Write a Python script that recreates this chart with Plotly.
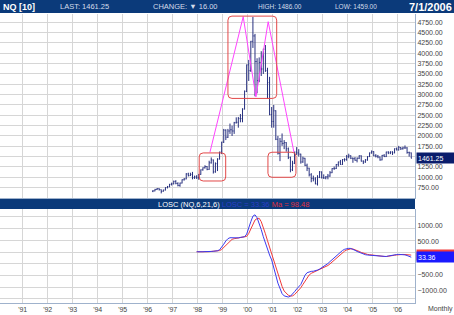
import plotly.graph_objects as go
import pandas as pd

# ---------------- data ----------------
price_months = pd.date_range("1996-03-01", "2006-07-01", freq="MS")
price_open = [660,670,705,725,700,660,690,750,770,830,
    840,900,850,800,860,940,960,1080,1040,1070,990,1010,
    990,1070,1180,1230,1260,1190,1350,1420,1130,1330,1440,1610,
    1850,2140,1970,2120,2150,2120,2320,2330,2420,2420,2650,3080,
    3720,3580,4290,4420,3800,3340,3780,3620,4100,3580,3290,2520,
    2350,2610,1920,1580,1870,1820,1840,1690,1480,1180,1340,1610,
    1590,1560,1370,1460,1290,1220,1060,970,960,840,1000,1130,
    990,980,1010,1030,1110,1210,1210,1310,1370,1310,1430,1430,
    1500,1520,1460,1450,1410,1460,1520,1390,1370,1420,1500,1590,
    1620,1520,1510,1490,1420,1530,1500,1610,1590,1610,1590,1690,
    1660,1720,1690,1710,1710,1600,1590]
price_high = [690,720,740,735,705,700,760,790,840,870,
    920,930,880,870,950,980,1100,1110,1110,1130,1040,1050,
    1080,1190,1240,1290,1270,1400,1480,1430,1360,1460,1620,1860,
    2170,2160,2170,2300,2250,2340,2450,2460,2530,2670,3100,3730,
    3840,4300,4880,4470,3880,3900,4050,4110,4200,3650,3430,2700,
    2750,2620,2000,1950,2060,1900,1850,1720,1500,1400,1620,1730,
    1680,1570,1500,1470,1330,1230,1100,1040,1000,1050,1150,1140,
    1070,1030,1080,1150,1220,1260,1320,1380,1420,1440,1460,1540,
    1570,1530,1480,1490,1480,1530,1530,1410,1440,1510,1600,1650,
    1630,1560,1540,1500,1540,1560,1620,1630,1630,1630,1700,1720,
    1760,1730,1740,1770,1730,1620,1600]
price_low = [640,660,690,680,610,650,680,730,760,800,
    830,830,780,770,850,920,950,1020,1030,950,960,960,
    940,1060,1160,1210,1170,1180,1330,1090,1110,1150,1430,1560,
    1830,1900,1950,2050,2000,2050,2300,2200,2330,2330,2640,3060,
    3330,3550,4130,2960,3030,3300,3450,3500,3550,2900,2500,2200,
    2200,1900,1550,1390,1760,1680,1620,1440,1120,1150,1320,1540,
    1500,1330,1350,1270,1150,1020,880,900,830,800,980,970,
    960,950,950,1010,1100,1180,1200,1260,1300,1300,1380,1400,
    1460,1440,1350,1400,1360,1440,1380,1320,1350,1400,1490,1570,
    1510,1480,1460,1400,1410,1490,1490,1560,1560,1540,1580,1650,
    1650,1660,1670,1690,1570,1500,1459]
price_close = [670,705,725,700,660,690,750,770,830,840,
    900,850,800,860,940,960,1080,1040,1070,990,1010,990,
    1070,1180,1230,1260,1190,1350,1420,1130,1330,1440,1610,1850,
    2140,1970,2120,2150,2120,2320,2330,2420,2420,2650,3080,3720,
    3580,4290,4420,3800,3340,3780,3620,4100,3580,3290,2520,2350,
    2610,1920,1580,1870,1820,1840,1690,1480,1180,1340,1610,1590,
    1560,1370,1460,1290,1220,1060,970,960,840,1000,1130,990,
    980,1010,1030,1110,1210,1210,1310,1370,1310,1430,1430,1500,
    1520,1460,1450,1410,1460,1520,1390,1370,1420,1500,1590,1620,
    1520,1510,1490,1420,1530,1500,1610,1590,1610,1590,1690,1660,
    1720,1690,1710,1710,1600,1590,1461.25]

osc_months = pd.date_range("1997-12-01", "2006-07-01", freq="MS")
losc = [200,
    195,195,200,205,200,205,210,215,215,230,260,330,
    430,530,600,630,625,615,615,625,640,640,660,740,
    900,1120,1290,1330,1240,1080,880,660,450,260,100,-50,
    -250,-520,-760,-950,-1080,-1150,-1180,-1185,-1160,-1100,-1020,-940,
    -880,-800,-660,-520,-440,-410,-400,-395,-385,-360,-330,-290,
    -250,-210,-160,-100,-40,20,80,140,190,240,275,300,
    305,300,280,245,210,180,150,125,110,100,95,90,
    85,75,65,55,50,50,55,70,85,95,105,115,
    120,120,115,105,85,60,33.36]
losc_ma = [200,
    196,196,198,201,201,203,206,210,212,220,236,270,
    330,410,480,540,580,600,610,615,625,632,640,670,
    760,900,1060,1170,1215,1225,1120,950,750,540,330,140,
    -60,-260,-480,-680,-860,-1000,-1080,-1130,-1155,-1150,-1110,-1050,
    -980,-900,-800,-690,-590,-510,-460,-430,-410,-390,-360,-320,
    -290,-260,-220,-170,-110,-50,10,70,130,180,220,255,
    280,290,285,265,240,210,180,155,135,120,110,100,
    95,88,80,70,62,56,55,60,70,82,93,103,
    112,118,118,115,108,103,98.48]

years = list(range(1991, 2007))
year_labels = ["'%02d" % (y % 100) for y in years]
price_ticks = [v for v in range(750, 5000, 250) if v != 1500]   # 1500 hidden by last-price box
price_hidden_grid = [1500]
osc_ticks = [-1000, -500, 500, 1000]                          # 0 hidden by last-value box
osc_grid = [1272, 917, 538, 183, -174, -520, -887, -1240]

last_price = 1461.25
last_osc = 33.36
last_ma = 98.48

def dec_year(months):
    return [d.year + (d.month - 1) / 12 + 1 / 24 for d in months]

px = dec_year(price_months)
ox = dec_year(osc_months)

# ---------------- layout geometry ----------------
W, H = 454, 315
XR = [1990.092, 2006.692]
Y1R = [491, 4951]
Y2R = [-1358, 1508]
xdom = [0, 415 / W]
y1dom = [1 - 198.3 / H, 1 - 14 / H]
y2dom = [1 - 302.7 / H, 1 - 209 / H]
pxx = 415 / (XR[1] - XR[0])
pxy = (198.3 - 14) / (Y1R[1] - Y1R[0])

NAVY = "#0b3a7a"
GRID = "#d6d6d6"
AXL = "#9fb2cc"
FONT = "Liberation Sans"

fig = go.Figure()
fig.add_trace(go.Ohlc(x=px, open=price_open, high=price_high, low=price_low, close=price_close,
                      increasing_line_color="#27307f", decreasing_line_color="#27307f",
                      line_width=1, tickwidth=0.35, xaxis="x", yaxis="y", showlegend=False))
fig.add_trace(go.Scatter(x=ox, y=losc_ma, mode="lines", line=dict(color="#f03a3a", width=1),
                         xaxis="x2", yaxis="y2", showlegend=False))
fig.add_trace(go.Scatter(x=ox, y=losc, mode="lines", line=dict(color="#3b3bef", width=1),
                         xaxis="x2", yaxis="y2", showlegend=False))

def rrect(x0, x1, y0, y1, r=4):
    rx, ry = r / pxx, r / pxy
    return (f"M {x0+rx},{y0} L {x1-rx},{y0} Q {x1},{y0} {x1},{y0+ry} "
            f"L {x1},{y1-ry} Q {x1},{y1} {x1-rx},{y1} L {x0+rx},{y1} "
            f"Q {x0},{y1} {x0},{y1-ry} L {x0},{y0+ry} Q {x0},{y0} {x0+rx},{y0} Z")

shapes = [
    dict(type="rect", xref="paper", yref="paper", x0=0, x1=1, y0=1 - 13 / H, y1=1,
         fillcolor=NAVY, line=dict(width=0)),
    dict(type="rect", xref="paper", yref="paper", x0=0, x1=415 / W, y0=1 - 209 / H, y1=1 - 199 / H,
         fillcolor=NAVY, line=dict(width=0)),
    dict(type="path", xref="x", yref="y",
         path="M 1998.49,1606 L 1999.82,4886 L 2000.33,2946 L 2000.82,4765 L 2001.85,1606",
         line=dict(color="#ff44ff", width=1)),
    dict(type="path", xref="x", yref="y", path=rrect(1998.06, 1999.12, 910, 1589),
         line=dict(color="#e24848", width=1)),
    dict(type="path", xref="x", yref="y", path=rrect(1999.21, 2001.16, 2908, 4900),
         line=dict(color="#e24848", width=1)),
    dict(type="path", xref="x", yref="y", path=rrect(2000.81, 2001.93, 1000, 1606),
         line=dict(color="#e24848", width=1)),
]

def hdr(x, text, size, color="#d4dcea", bold=False):
    t = f"<b>{text}</b>" if bold else text
    return dict(xref="paper", yref="paper", x=x / W, y=1 - 6.5 / H, xanchor="left", yanchor="middle",
                text=t, showarrow=False, font=dict(family=FONT, size=size, color=color))

annotations = [
    hdr(1, "NQ [10]", 9, "white", True),
    hdr(58, "LAST: 1461.25", 7.5),
    hdr(151, "CHANGE: \u25BC 16.00", 7.5),
    hdr(256, "HIGH: 1486.00", 6.5),
    hdr(333, "LOW: 1459.00", 6.5),
    hdr(407, "7/1/2006", 11, "white", True),
    dict(xref="paper", yref="paper", x=156 / W, y=1 - 204 / H, xanchor="left", yanchor="middle",
         showarrow=False, font=dict(family=FONT, size=7.5),
         text="<span style='color:white'>LOSC (NQ,6,21,6)</span> "
              "<span style='color:#2c3fc8'>LOSC = 33.36</span> "
              "<span style='color:#e03040'>Ma = 98.48</span>"),
    dict(xref="paper", yref="paper", x=426 / W, y=1 - 308.5 / H, xanchor="left", yanchor="middle",
         showarrow=False, text="Monthly", font=dict(family=FONT, size=7, color="#444")),
    dict(xref="paper", yref="y", x=415.5 / W, y=last_price, xanchor="left", yanchor="middle",
         showarrow=False, text="%.2f" % last_price, width=35, height=8, borderpad=1, align="left",
         bgcolor="#0a1d6c", font=dict(family=FONT, size=7, color="white")),
    dict(xref="paper", yref="y2", x=415.5 / W, y=last_ma, xanchor="left", yanchor="middle",
         showarrow=False, text="", width=35, height=8, borderpad=1,
         bgcolor="#f03a3a", font=dict(family=FONT, size=7, color="white")),
    dict(xref="paper", yref="y2", x=415.5 / W, y=last_osc, xanchor="left", yanchor="middle",
         showarrow=False, text="%.2f" % last_osc, width=35, height=8, borderpad=1, align="left",
         bgcolor="#1a1aff", font=dict(family=FONT, size=7, color="white")),
]

axfont = dict(family=FONT, size=7, color="#444")
fig.update_layout(
    width=W, height=H, autosize=False, margin=dict(l=0, r=0, t=0, b=0),
    paper_bgcolor="white", plot_bgcolor="white", showlegend=False,
    shapes=shapes, annotations=annotations,
    xaxis=dict(domain=xdom, range=XR, anchor="y", tickvals=years, showticklabels=False,
               showgrid=True, gridcolor=GRID, gridwidth=1, zeroline=False, ticks="",
               showline=True, linecolor=AXL, rangeslider=dict(visible=False), fixedrange=True),
    xaxis2=dict(domain=xdom, range=XR, anchor="y2", tickvals=years, ticktext=year_labels,
                showgrid=True, gridcolor=GRID, gridwidth=1, zeroline=False, ticks="",
                showline=True, linecolor=AXL, tickfont=axfont, fixedrange=True),
    yaxis=dict(domain=y1dom, range=Y1R, anchor="x", side="right", tickvals=price_ticks,
               tickformat=".2f", showgrid=True, gridcolor=GRID, zeroline=False, ticks="",
               showline=True, linecolor=AXL, tickfont=axfont, fixedrange=True,
               minor=dict(tickvals=price_hidden_grid, showgrid=True, gridcolor=GRID, ticks="")),
    yaxis2=dict(domain=y2dom, range=Y2R, anchor="x2", side="right", tickvals=osc_ticks,
                tickformat=".2f", showgrid=False, zeroline=False, ticks="",
                showline=True, linecolor=AXL, tickfont=axfont, fixedrange=True,
                minor=dict(tickvals=osc_grid, showgrid=True, gridcolor=GRID, ticks="")),
)

fig.write_html("out.html")
